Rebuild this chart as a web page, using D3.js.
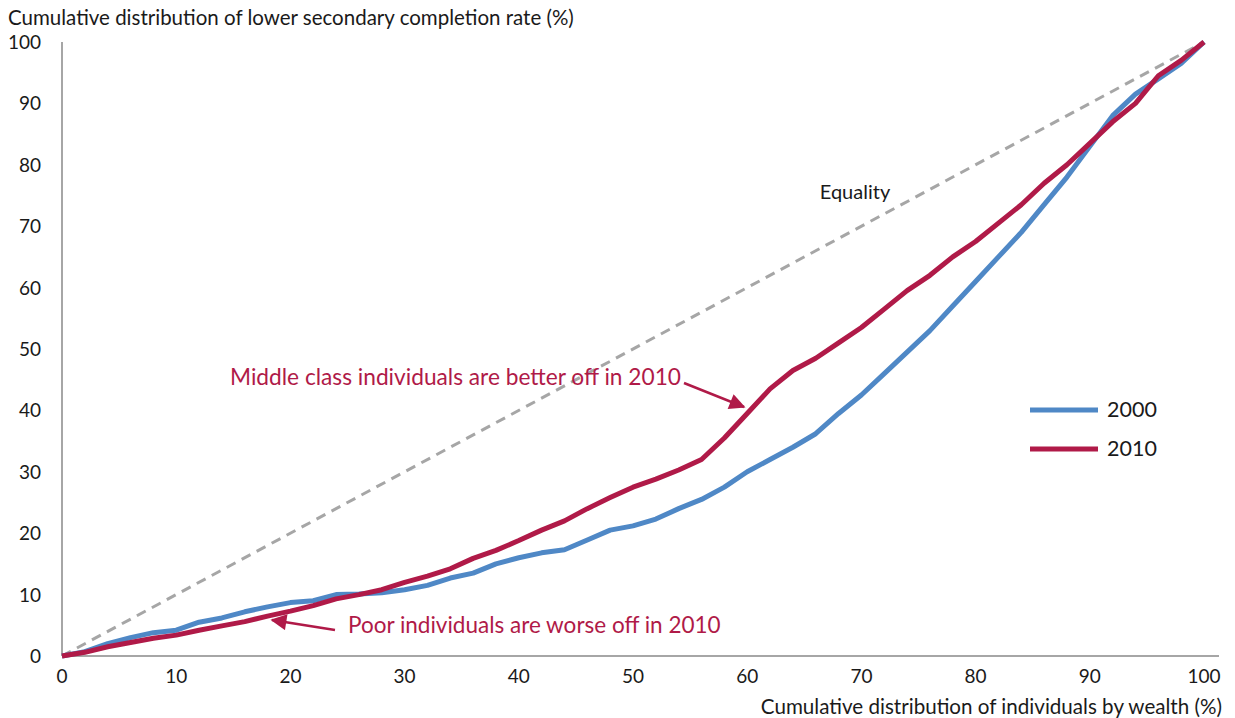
<!DOCTYPE html>
<html><head><meta charset="utf-8">
<script src="https://cdn.jsdelivr.net/npm/d3@7"></script>
<style>body{margin:0;background:#fff}svg{display:block}text{font-family:Lato,"Open Sans",sans-serif}</style>
</head><body><svg id="c" width="1235" height="718"></svg>
<script>
const wealth = [0,2,4,6,8,10,12,14,16,18,20,22,24,26,28,30,32,34,36,38,40,42,44,46,48,50,52,54,56,58,60,62,64,66,68,70,72,74,76,78,80,82,84,86,88,90,92,94,96,98,100];
const rate2000 = [0,0.7,2,3,3.8,4.2,5.5,6.2,7.2,8,8.7,9,10,10.1,10.3,10.8,11.5,12.7,13.5,15,16,16.8,17.3,18.9,20.5,21.2,22.3,24,25.5,27.5,30,32,34,36.2,39.5,42.5,46,49.5,53,57,61,65,69,73.5,78,83,88,91.5,94,96.5,100];
const rate2010 = [0,0.6,1.5,2.2,2.9,3.4,4.2,4.9,5.6,6.5,7.3,8.2,9.3,10,10.8,12,13,14.2,15.9,17.2,18.8,20.5,22,24,25.8,27.5,28.8,30.3,32,35.5,39.5,43.5,46.5,48.5,51,53.5,56.5,59.5,62,65,67.5,70.5,73.5,77,80,83.5,87,90,94.5,97,100];
const xTicks = [0,10,20,30,40,50,60,70,80,90,100];
const yTicks = [0,10,20,30,40,50,60,70,80,90,100];
const seriesNames = ["2000","2010"];
const colors = {"2000":"#4f88c6","2010":"#b01a48"};

const svg = d3.select("#c");
const x = d3.scaleLinear().domain([0,100]).range([62,1204]);
const y = d3.scaleLinear().domain([0,100]).range([656,42]);
const grey = "#a6a6a6";

svg.append("line").attr("x1",62).attr("x2",62).attr("y1",42).attr("y2",656).attr("stroke",grey).attr("stroke-width",2);
svg.append("line").attr("x1",62).attr("x2",1219).attr("y1",656).attr("y2",656).attr("stroke",grey).attr("stroke-width",2);

svg.append("g").selectAll("text").data(yTicks).join("text")
  .attr("x",41).attr("y",d=>y(d)+7).attr("text-anchor","end")
  .attr("font-size",19).attr("fill","#1a1a1a").text(d=>d);
svg.append("g").selectAll("text").data(xTicks).join("text")
  .attr("x",d=>x(d)).attr("y",683).attr("text-anchor","middle")
  .attr("font-size",19).attr("fill","#1a1a1a").text(d=>d);

svg.append("text").attr("x",8).attr("y",25).attr("font-size",20.5).attr("fill","#1a1a1a")
  .text("Cumulative distribution of lower secondary completion rate (%)");
svg.append("text").attr("x",1222).attr("y",714).attr("text-anchor","end").attr("font-size",20.6).attr("fill","#1a1a1a")
  .text("Cumulative distribution of individuals by wealth (%)");

svg.append("line").attr("x1",x(0)).attr("y1",y(0)).attr("x2",x(100)).attr("y2",y(100))
  .attr("stroke",grey).attr("stroke-width",3).attr("stroke-dasharray","10,7");
svg.append("text").attr("x",855).attr("y",199).attr("text-anchor","middle").attr("font-size",20).attr("fill","#1a1a1a").text("Equality");

const line = d3.line().x((d,i)=>x(wealth[i])).y(d=>y(d));
svg.append("path").datum(rate2000).attr("d",line).attr("fill","none").attr("stroke",colors["2000"]).attr("stroke-width",5).attr("stroke-linejoin","round");
svg.append("path").datum(rate2010).attr("d",line).attr("fill","none").attr("stroke",colors["2010"]).attr("stroke-width",5).attr("stroke-linejoin","round");

const leg = svg.append("g");
seriesNames.forEach((s,i)=>{
  const ly = 410 + i*39;
  leg.append("line").attr("x1",1030).attr("x2",1098).attr("y1",ly).attr("y2",ly).attr("stroke",colors[s]).attr("stroke-width",5);
  leg.append("text").attr("x",1107).attr("y",ly+7).attr("font-size",21.5).attr("fill","#1a1a1a").text(s);
});

const ann = "#b01a48";
const defs = svg.append("defs");
defs.append("marker").attr("id","ah").attr("viewBox","0 0 10 10").attr("refX",9).attr("refY",5)
  .attr("markerWidth",20).attr("markerHeight",16).attr("markerUnits","userSpaceOnUse").attr("orient","auto")
  .append("path").attr("d","M0,0 L10,5 L0,10 z").attr("fill",ann);

svg.append("text").attr("x",230).attr("y",385).attr("font-size",22.7).attr("fill",ann).text("Middle class individuals are better off in 2010");
svg.append("line").attr("x1",684).attr("y1",383).attr("x2",744).attr("y2",407).attr("stroke",ann).attr("stroke-width",2.5).attr("marker-end","url(#ah)");
svg.append("text").attr("x",348).attr("y",633).attr("font-size",22.5).attr("fill",ann).text("Poor individuals are worse off in 2010");
svg.append("line").attr("x1",335).attr("y1",630).attr("x2",272).attr("y2",620).attr("stroke",ann).attr("stroke-width",2.5).attr("marker-end","url(#ah)");
</script></body></html>
